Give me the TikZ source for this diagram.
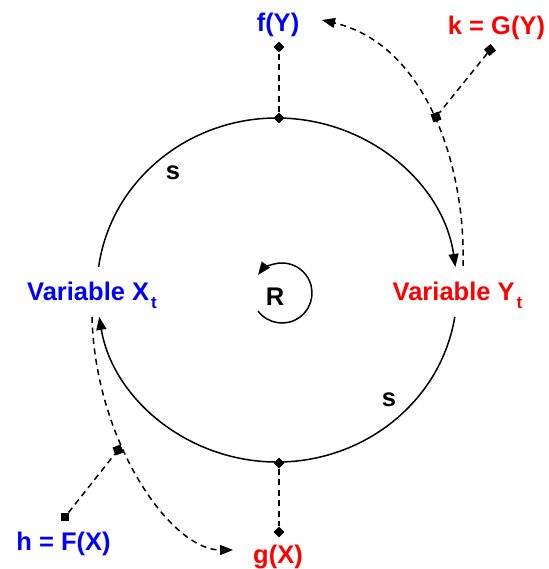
\documentclass[tikz,border=0pt]{standalone}
\usepackage{fontspec}
\setmainfont{Liberation Sans}
\usetikzlibrary{arrows.meta,shapes.geometric,calc}
\definecolor{lblblue}{RGB}{0,0,255}
\definecolor{lblred}{RGB}{255,0,0}
\tikzset{
  lbl/.style={font=\fontsize{25.5}{30}\selectfont\bfseries, inner sep=0pt, anchor=base},
  dia/.style={diamond, fill=black, inner sep=0pt, minimum width=11pt, minimum height=11pt},
  sq/.style={rectangle, fill=black, inner sep=0pt, minimum size=8.5pt},
  solidarr/.style={line width=1.5pt, -{Triangle[length=13pt,width=10pt]}},
  dasharr/.style={line width=1.5pt, dash pattern=on 6pt off 4.5pt, -{Triangle[length=13pt,width=10pt]}},
  dashln/.style={line width=1.5pt, dash pattern=on 6pt off 4.5pt}
}
\newcommand{\subt}{\hspace{2pt}\raisebox{-8pt}{\fontsize{17}{20}\selectfont\bfseries t}}
\begin{document}
\begin{tikzpicture}[x=1pt,y=-1pt]
\useasboundingbox (0,0) rectangle (548,569);
% labels
\node[lbl, text=lblblue] (fY) at (278,31.5) {f(Y)};
\node[lbl, text=lblred] (kG) at (496.5,35) {k = G(Y)};
\node[lbl, text=lblblue, anchor=base west] (vX) at (27,300) {Variable X\subt};
\node[lbl, text=lblred, anchor=base west] (vY) at (392.5,300) {Variable Y\subt};
\node[lbl, text=lblblue] (hF) at (63.5,550) {h = F(X)};
\node[lbl, text=lblred] (gX) at (278,563) {g(X)};
\node[lbl] (R) at (275,305) {R};
\node[lbl] (s1) at (173,180) {s};
\node[lbl] (s2) at (389,406) {s};
% markers
\node[dia] (dtop) at (279,118) {};
\node[dia] (dfy) at (279,47) {};
\node[dia] (dbot) at (279,463) {};
\node[dia] (dgx) at (279,532) {};
\node[sq, rotate=40] (sqk) at (490,50) {};
\node[sq, rotate=20] (sqkc) at (436,117) {};
\node[sq, rotate=20] (sqhc) at (118,450) {};
\node[sq] (sqh) at (65,517) {};
% coordinates
\coordinate (ystart) at (463,266);
\coordinate (fyend) at (322,20);
\coordinate (xstart) at (92,317);
\coordinate (gxend) at (233,550);
% big circle arcs
\draw[solidarr] (277,290) ++(-172.3:180 and 172) arc[start angle=-172.3, end angle=-7.7, x radius=180, y radius=172];
\draw[solidarr] (277,290) ++(9:180 and 172) arc[start angle=9, end angle=171, x radius=180, y radius=172];
% small rotation arc
\draw[solidarr] (282,293) ++(143:30) arc[start angle=143, end angle=-143, radius=30];
% vertical dashed connectors
\draw[dashln] (dtop) -- (dfy);
\draw[dashln] (dbot) -- (dgx);
% curved dashed arrows
\draw[dasharr] (ystart) .. controls (466,170) and (428,45) .. (fyend);
\draw[dasharr] (xstart) .. controls (95,440) and (170,550) .. (gxend);
% square connectors
\draw[dashln] (sqk) -- (sqkc);
\draw[dashln] (sqh) -- (sqhc);
\end{tikzpicture}
\end{document}
